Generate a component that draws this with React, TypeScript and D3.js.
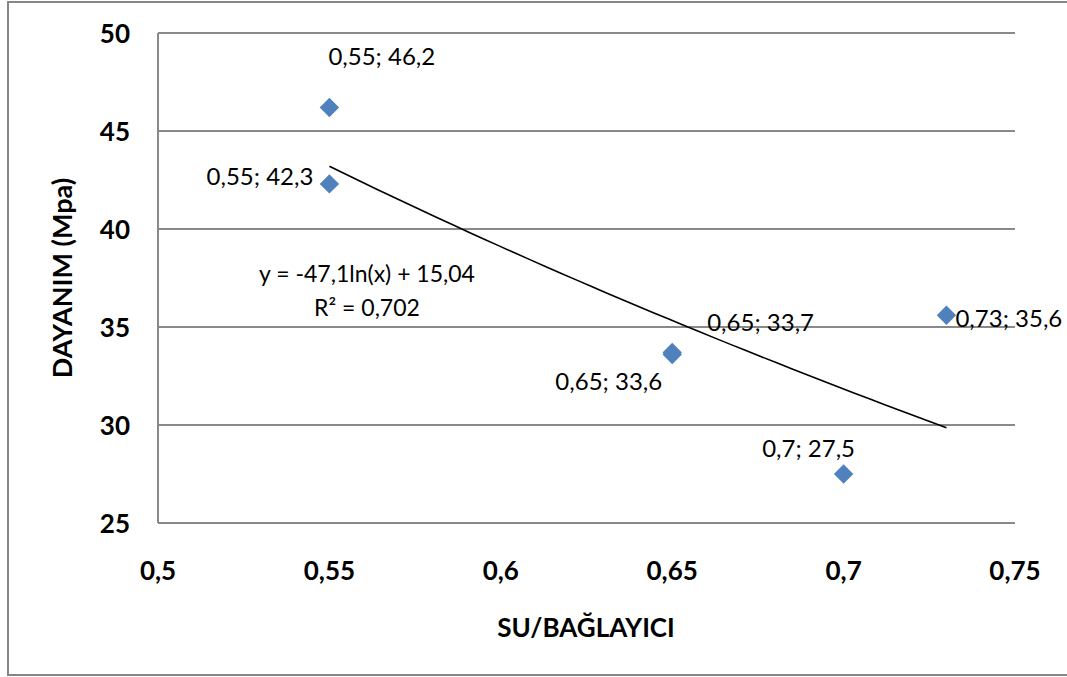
import React from "react";
import * as d3 from "d3";

const xValues = [0.55, 0.55, 0.65, 0.65, 0.7, 0.73];
const yValues = [46.2, 42.3, 33.6, 33.7, 27.5, 35.6];
const pointLabels = ["0,55; 46,2", "0,55; 42,3", "0,65; 33,6", "0,65; 33,7", "0,7; 27,5", "0,73; 35,6"];
const labelAnchors = ["start", "end", "end", "start", "middle", "start"];
const labelDx = [-1, -16, -10, 35, -35, 9];
const labelDy = [-52, -8, 26, -31, -27, 2];
const xTicks = [0.5, 0.55, 0.6, 0.65, 0.7, 0.75];
const xTickLabels = ["0,5", "0,55", "0,6", "0,65", "0,7", "0,75"];
const yTicks = [25, 30, 35, 40, 45, 50];
const xTitle = "SU/BAĞLAYICI";
const yTitle = "DAYANIM (Mpa)";
// logarithmic trendline as printed on the chart
const trendA = -47.1;
const trendB = 15.04;
const trendR2 = 0.702;
const trendLabel = "y = -47,1ln(x) + 15,04";
const r2Label = "R² = 0,702";

const W = 1067;
const H = 677;
const FONT = "Lato, 'Open Sans', sans-serif";

export default function App() {
  const x = d3.scaleLinear().domain([0.5, 0.75]).range([158, 1015]);
  const y = d3.scaleLinear().domain([25, 50]).range([523, 33]);

  const xMin = d3.min(xValues)!;
  const xMax = d3.max(xValues)!;
  const trendPts = d3.range(0, 41).map((i) => {
    const xv = xMin + ((xMax - xMin) * i) / 40;
    return [x(xv), y(trendA * Math.log(xv) + trendB)] as [number, number];
  });
  const line = d3.line();
  const diamond = d3.symbol().type(d3.symbolDiamond2).size(240)();
  void trendR2;

  return (
    <svg
      width={W}
      height={H}
      style={{ position: "absolute", left: 0, top: 0, background: "#fff" }}
      fontFamily={FONT}
    >
      <rect x={8} y={2} width={W + 10} height={673} fill="#fff" stroke="#868686" strokeWidth={2} />
      {yTicks.map((t) => (
        <line key={"g" + t} x1={x(0.5)} x2={x(0.75)} y1={y(t)} y2={y(t)} stroke="#898989" strokeWidth={2} />
      ))}
      <line x1={x(0.5)} x2={x(0.5)} y1={y(50)} y2={y(25)} stroke="#898989" strokeWidth={2} />
      {yTicks.map((t) => (
        <text key={"yt" + t} x={130} y={y(t)} textAnchor="end" dominantBaseline="central" fontSize={26} fontWeight="bold" fill="#000">
          {t}
        </text>
      ))}
      {xTicks.map((t, i) => (
        <text key={"xt" + t} x={x(t)} y={570} textAnchor="middle" dominantBaseline="central" fontSize={26} fontWeight="bold" fill="#000">
          {xTickLabels[i]}
        </text>
      ))}
      <text x={586} y={627} textAnchor="middle" dominantBaseline="central" fontSize={26} fontWeight="bold">
        {xTitle}
      </text>
      <text
        transform={`translate(61,278) rotate(-90)`}
        textAnchor="middle"
        dominantBaseline="central"
        fontSize={27}
        fontWeight="bold"
      >
        {yTitle}
      </text>
      <path d={line(trendPts)!} fill="none" stroke="#000" strokeWidth={1.6} />
      {xValues.map((xv, i) => (
        <path key={"p" + i} d={diamond!} transform={`translate(${x(xv)},${y(yValues[i])})`} fill="#4F81BD" />
      ))}
      {xValues.map((xv, i) => (
        <text
          key={"l" + i}
          x={x(xv) + labelDx[i]}
          y={y(yValues[i]) + labelDy[i]}
          textAnchor={labelAnchors[i] as any}
          dominantBaseline="central"
          fontSize={24}
          fill="#000"
        >
          {pointLabels[i]}
        </text>
      ))}
      <text x={367} y={273} textAnchor="middle" dominantBaseline="central" fontSize={23}>
        {trendLabel}
      </text>
      <text x={367} y={307} textAnchor="middle" dominantBaseline="central" fontSize={23}>
        {r2Label}
      </text>
    </svg>
  );
}
